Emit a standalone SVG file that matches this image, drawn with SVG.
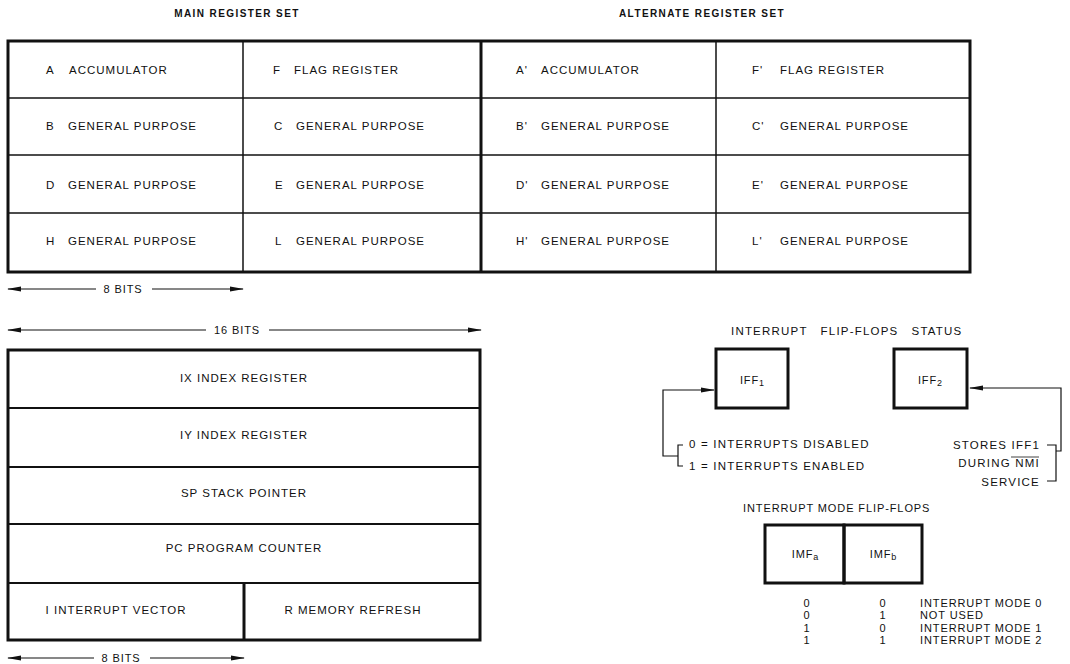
<svg xmlns="http://www.w3.org/2000/svg" width="1070" height="664" viewBox="0 0 1070 664">
<style>
text{font-family:"Liberation Sans",Arial,sans-serif;fill:#111;}
.t{font-size:11.5px;letter-spacing:1px;}
.c{text-anchor:middle;}
.h{font-size:10px;font-weight:bold;letter-spacing:1.4px;text-anchor:middle;}
.s{font-size:11px;letter-spacing:0.9px;}
.r{font-size:11.5px;letter-spacing:1.2px;}
.thick{fill:none;stroke:#111;stroke-width:3;}
.thin{fill:none;stroke:#111;stroke-width:1.5;}
.med{fill:none;stroke:#111;stroke-width:2;}
.ln{fill:none;stroke:#111;stroke-width:1.2;}
.sub{font-size:9px;letter-spacing:0;}
</style>
<defs>
<marker id="ah" markerWidth="14" markerHeight="8" refX="13" refY="3" orient="auto" markerUnits="userSpaceOnUse">
<path d="M0,0.5 L14,3 L0,5.5 z" fill="#111"/>
</marker>
</defs>
<rect width="1070" height="664" fill="#fff"/>

<text class="h" x="237" y="17">MAIN REGISTER SET</text>
<text class="h" x="702" y="17">ALTERNATE REGISTER SET</text>

<g id="main-register-table">
<rect class="thick" x="8" y="41" width="962" height="231"/>
<line class="thin" x1="8" y1="98" x2="970" y2="98"/>
<line class="thin" x1="8" y1="155" x2="970" y2="155"/>
<line class="thin" x1="8" y1="213" x2="970" y2="213"/>
<line class="thin" x1="243" y1="41" x2="243" y2="272"/>
<line class="thick" x1="481" y1="41" x2="481" y2="272"/>
<line class="thin" x1="716" y1="41" x2="716" y2="272"/>
</g>
<g id="reg-A"><text class="t" x="46" y="74">A</text><text class="t" x="69" y="74">ACCUMULATOR</text></g>
<g id="reg-F"><text class="t" x="273" y="74">F</text><text class="t" x="294" y="74">FLAG REGISTER</text></g>
<g id="reg-A2"><text class="t" x="516" y="74">A'</text><text class="t" x="541" y="74">ACCUMULATOR</text></g>
<g id="reg-F2"><text class="t" x="752" y="74">F'</text><text class="t" x="780" y="74">FLAG REGISTER</text></g>
<g id="reg-B"><text class="t" x="46" y="130">B</text><text class="t" x="68" y="130">GENERAL PURPOSE</text></g>
<g id="reg-C"><text class="t" x="274" y="130">C</text><text class="t" x="296" y="130">GENERAL PURPOSE</text></g>
<g id="reg-B2"><text class="t" x="516" y="130">B'</text><text class="t" x="541" y="130">GENERAL PURPOSE</text></g>
<g id="reg-C2"><text class="t" x="752" y="130">C'</text><text class="t" x="780" y="130">GENERAL PURPOSE</text></g>
<g id="reg-D"><text class="t" x="46" y="189">D</text><text class="t" x="68" y="189">GENERAL PURPOSE</text></g>
<g id="reg-E"><text class="t" x="275" y="189">E</text><text class="t" x="296" y="189">GENERAL PURPOSE</text></g>
<g id="reg-D2"><text class="t" x="516" y="189">D'</text><text class="t" x="541" y="189">GENERAL PURPOSE</text></g>
<g id="reg-E2"><text class="t" x="752" y="189">E'</text><text class="t" x="780" y="189">GENERAL PURPOSE</text></g>
<g id="reg-H"><text class="t" x="46" y="245">H</text><text class="t" x="68" y="245">GENERAL PURPOSE</text></g>
<g id="reg-L"><text class="t" x="275" y="245">L</text><text class="t" x="296" y="245">GENERAL PURPOSE</text></g>
<g id="reg-H2"><text class="t" x="516" y="245">H'</text><text class="t" x="541" y="245">GENERAL PURPOSE</text></g>
<g id="reg-L2"><text class="t" x="752" y="245">L'</text><text class="t" x="780" y="245">GENERAL PURPOSE</text></g>

<g id="dims">
<text class="s c" x="123" y="293">8 BITS</text>
<text class="s c" x="237" y="334">16 BITS</text>
<text class="s c" x="121" y="662">8 BITS</text>
</g>

<g id="special-register-table">
<rect class="thick" x="8" y="350" width="472" height="290"/>
<line class="med" x1="8" y1="408" x2="480" y2="408"/>
<line class="med" x1="8" y1="467" x2="480" y2="467"/>
<line class="med" x1="8" y1="524" x2="480" y2="524"/>
<line class="med" x1="8" y1="583" x2="480" y2="583"/>
<line class="thick" x1="244" y1="583" x2="244" y2="640"/>
</g>
<g id="reg-IX"><text class="t c" x="244" y="382">IX  INDEX REGISTER</text></g>
<g id="reg-IY"><text class="t c" x="244" y="439">IY  INDEX REGISTER</text></g>
<g id="reg-SP"><text class="t c" x="244" y="497">SP  STACK POINTER</text></g>
<g id="reg-PC"><text class="t c" x="244" y="552">PC  PROGRAM COUNTER</text></g>
<g id="reg-I"><text class="t c" x="116" y="614">I  INTERRUPT VECTOR</text></g>
<g id="reg-R"><text class="t c" x="353" y="614">R  MEMORY REFRESH</text></g>

<text class="r" x="731" y="335" xml:space="preserve">INTERRUPT   FLIP-FLOPS   STATUS</text>

<g id="IFF1">
<rect class="thick" x="716" y="349" width="72" height="59"/>
<text class="s c" x="752" y="384">IFF<tspan class="sub" dy="2">1</tspan></text>
</g>
<g id="IFF2">
<rect class="thick" x="894" y="349" width="73" height="59"/>
<text class="s c" x="930" y="384">IFF<tspan class="sub" dy="2">2</tspan></text>
</g>

<g id="iff1-states">
<text class="r" x="689" y="448">0 = INTERRUPTS DISABLED</text>
<text class="r" x="689" y="470">1 = INTERRUPTS ENABLED</text>
</g>
<g id="iff2-note">
<text class="r" x="1040" y="449" text-anchor="end">STORES IFF1</text>
<text class="r" x="1040" y="467" text-anchor="end">DURING NMI</text>
<line x1="1011" y1="457" x2="1039" y2="457" stroke="#111" stroke-width="0.8"/>
<text class="r" x="1040" y="486" text-anchor="end">SERVICE</text>
</g>

<g id="connectors">
<line class="ln" x1="96" y1="289" x2="8" y2="289" marker-end="url(#ah)"/>
<line class="ln" x1="152" y1="289" x2="243" y2="289" marker-end="url(#ah)"/>
<line class="ln" x1="206" y1="330" x2="8" y2="330" marker-end="url(#ah)"/>
<line class="ln" x1="269" y1="330" x2="481" y2="330" marker-end="url(#ah)"/>
<line class="ln" x1="94" y1="658" x2="8" y2="658" marker-end="url(#ah)"/>
<line class="ln" x1="150" y1="658" x2="244" y2="658" marker-end="url(#ah)"/>
<path class="ln" d="M683,445 L678,445 L678,466 L683,466"/>
<polyline class="ln" points="678,456 663,456 663,390 714,390" marker-end="url(#ah)"/>
<path class="ln" d="M1047,445 L1056,445 L1056,481 L1047,481"/>
<polyline class="ln" points="1056,451 1061,451 1061,388 970,388" marker-end="url(#ah)"/>
</g>

<text class="s" x="743" y="512" letter-spacing="1.2">INTERRUPT MODE FLIP-FLOPS</text>
<g id="IMFa">
<rect class="thick" x="765" y="525" width="79" height="58"/>
<text class="s c" x="805" y="558">IMF<tspan class="sub" dy="2">a</tspan></text>
</g>
<g id="IMFb">
<rect class="thick" x="844" y="525" width="78" height="58"/>
<text class="s c" x="883" y="558">IMF<tspan class="sub" dy="2">b</tspan></text>
</g>
<g id="mode-table">
<text class="s c" x="807" y="607">0</text><text class="s c" x="883" y="607">0</text><text class="s" x="920" y="607">INTERRUPT MODE 0</text>
<text class="s c" x="807" y="619">0</text><text class="s c" x="883" y="619">1</text><text class="s" x="920" y="619">NOT USED</text>
<text class="s c" x="807" y="632">1</text><text class="s c" x="883" y="632">0</text><text class="s" x="920" y="632">INTERRUPT MODE 1</text>
<text class="s c" x="807" y="644">1</text><text class="s c" x="883" y="644">1</text><text class="s" x="920" y="644">INTERRUPT MODE 2</text>
</g>
</svg>
